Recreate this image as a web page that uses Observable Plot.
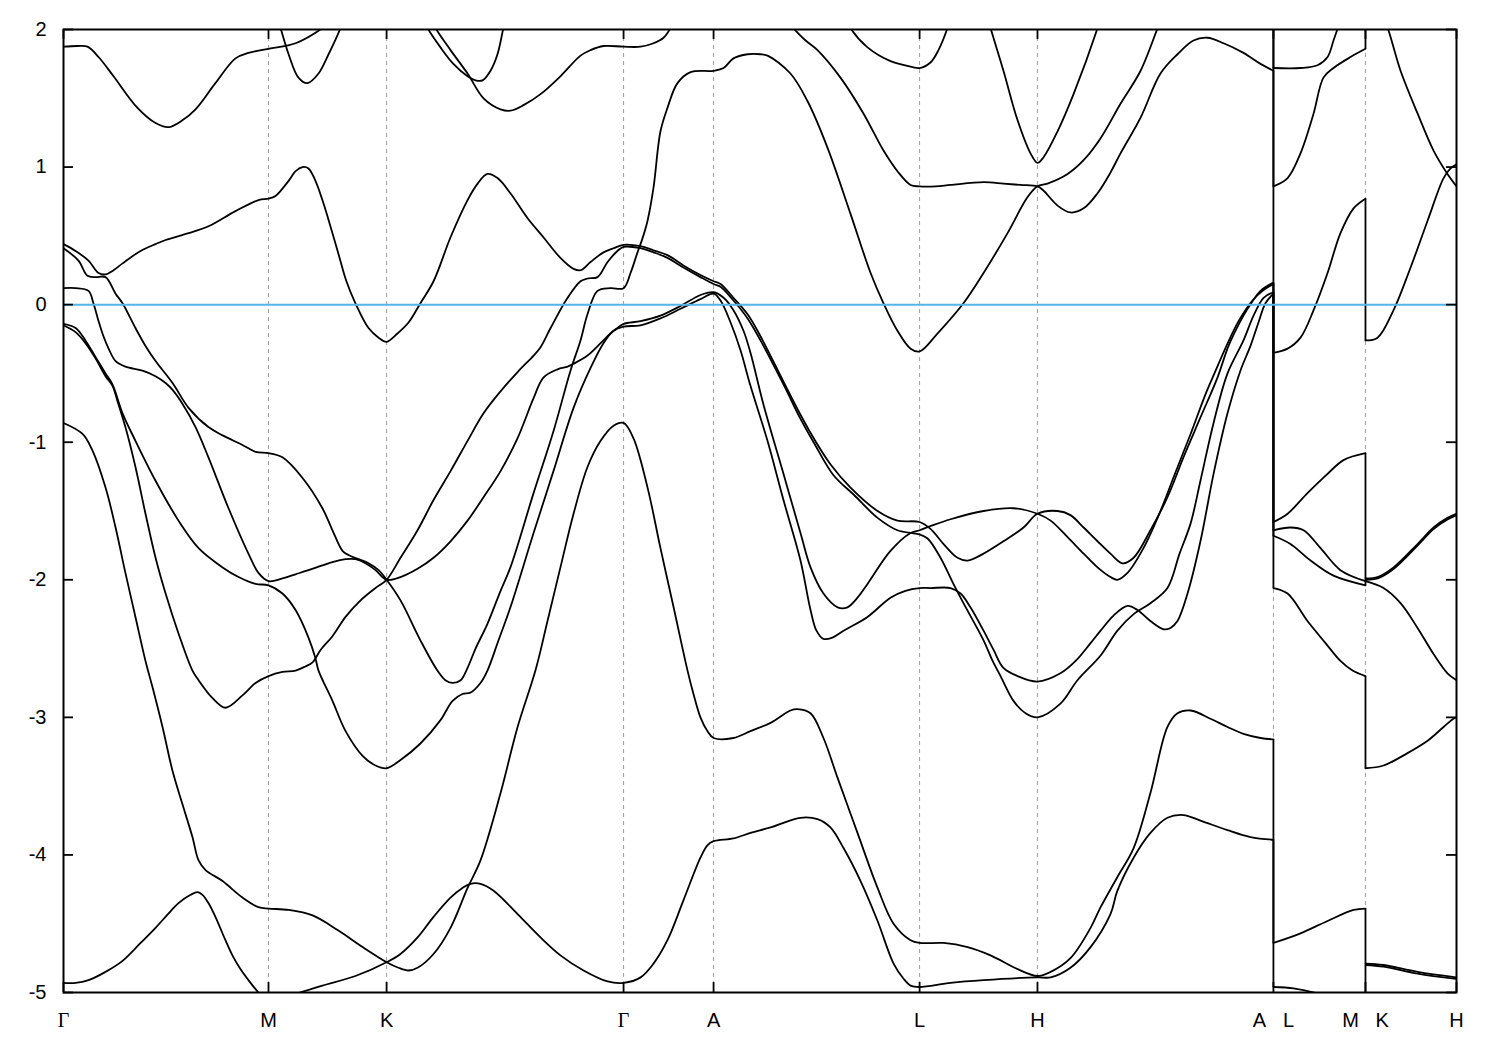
<!DOCTYPE html>
<html><head><meta charset="utf-8">
<script src="https://cdn.jsdelivr.net/npm/d3@7"></script>
<script src="https://cdn.jsdelivr.net/npm/@observablehq/plot@0.6"></script>
<style>html,body{margin:0;padding:0;background:#fff}#chart svg{display:block}</style>
</head><body><div id="chart"></div>
<script>
// k-path positions of high-symmetry points (Γ-M = 1)
const kTicks = [0, 1.0, 1.576, 2.732, 3.171, 4.176, 4.751, 5.902, 6.351, 6.795];
const kLabels = ["Γ","M","K","Γ","A","L","H","A\u00a0\u00a0\u00a0L","M\u00a0\u00a0\u00a0K","H"];
const energyTicks = [2, 1, 0, -1, -2, -3, -4, -5];
const fermiLevel = 0;

// bands: [k, E(eV)]
const bandTop1 = [[0,1.875],[0.068,1.88],[0.117,1.875],[0.171,1.80],[0.244,1.66],[0.361,1.43],[0.449,1.32],[0.512,1.29],[0.580,1.34],[0.644,1.42],[0.741,1.61],[0.839,1.79],[0.902,1.83],[1.0,1.86],[1.132,1.90],[1.263,2.01],[1.302,2.06]];
const bandTop2 = [[1.049,2.06],[1.059,2.01],[1.098,1.82],[1.146,1.65],[1.190,1.61],[1.244,1.68],[1.293,1.82],[1.351,2.01],[1.361,2.06]];
const bandTop3 = [[1.761,2.06],[1.776,2.01],[1.839,1.87],[1.902,1.75],[1.971,1.66],[2.010,1.63],[2.044,1.63],[2.083,1.70],[2.117,1.82],[2.146,2.01],[2.156,2.06]];
const bandTop4 = [[1.800,2.06],[1.815,2.01],[1.888,1.85],[1.971,1.68],[2.049,1.50],[2.132,1.42],[2.180,1.41],[2.244,1.45],[2.327,1.53],[2.424,1.66],[2.522,1.81],[2.571,1.85],[2.634,1.88],[2.732,1.875],[2.815,1.875],[2.878,1.90],[2.927,1.94],[2.961,2.01],[2.976,2.06]];
const bandB4 = [[0,0.44],[0.059,0.39],[0.122,0.32],[0.171,0.23],[0.205,0.22],[0.244,0.25],[0.288,0.30],[0.376,0.39],[0.449,0.44],[0.498,0.47],[0.610,0.52],[0.707,0.57],[0.839,0.68],[0.951,0.76],[1.0,0.77],[1.034,0.79],[1.098,0.90],[1.132,0.97],[1.166,1.00],[1.195,0.99],[1.229,0.90],[1.263,0.76],[1.302,0.57],[1.341,0.37],[1.380,0.17],[1.424,0.01],[1.488,-0.17],[1.537,-0.24],[1.576,-0.27],[1.629,-0.21],[1.683,-0.13],[1.741,0.01],[1.805,0.17],[1.888,0.49],[1.971,0.76],[2.020,0.88],[2.068,0.95],[2.117,0.92],[2.180,0.81],[2.263,0.63],[2.341,0.49],[2.424,0.34],[2.488,0.26],[2.522,0.25],[2.571,0.31],[2.634,0.38],[2.683,0.41],[2.732,0.435],
  [2.815,0.425],[2.878,0.395],[2.946,0.36],[3.024,0.285],[3.107,0.215],[3.171,0.17],[3.205,0.15],[3.268,0.05],[3.337,-0.07],[3.400,-0.23],[3.512,-0.56],[3.595,-0.80],[3.659,-0.97],[3.741,-1.16],[3.839,-1.33],[3.971,-1.50],[4.068,-1.57],[4.176,-1.58],[4.229,-1.63],[4.293,-1.74],[4.361,-1.84],[4.410,-1.86],[4.488,-1.81],[4.585,-1.72],[4.683,-1.62],[4.751,-1.52],[4.849,-1.50],[4.912,-1.53],[4.976,-1.62],[5.044,-1.72],[5.107,-1.81],[5.166,-1.88],[5.220,-1.84],[5.302,-1.64],[5.385,-1.40],[5.463,-1.11],[5.546,-0.82],[5.629,-0.53],[5.683,-0.30],[5.741,-0.12],[5.776,-0.03],[5.839,0.10],[5.902,0.16]];
const bandW = [[0,-0.15],[0.059,-0.20],[0.107,-0.28],[0.156,-0.39],[0.205,-0.52],[0.239,-0.59],[0.263,-0.70],[0.302,-0.89],[0.351,-1.18],[0.400,-1.52],[0.449,-1.84],[0.498,-2.10],[0.561,-2.39],[0.629,-2.66],[0.659,-2.73],[0.727,-2.86],[0.790,-2.93],[0.873,-2.84],[0.937,-2.75],[1.0,-2.70],[1.068,-2.67],[1.132,-2.66],[1.180,-2.63],[1.215,-2.60],[1.254,-2.51],[1.312,-2.41],[1.376,-2.27],[1.449,-2.15],[1.522,-2.06],[1.576,-2.00],[1.644,-1.84],[1.727,-1.64],[1.805,-1.42],[1.888,-1.21],[1.971,-0.99],[2.049,-0.79],[2.132,-0.63],[2.215,-0.49],[2.293,-0.37],[2.327,-0.31],[2.376,-0.17],[2.459,0.05],[2.522,0.17],[2.556,0.19],[2.605,0.20],[2.654,0.31],[2.702,0.39],[2.732,0.42],
  [2.815,0.41],[2.878,0.38],[2.946,0.34],[3.024,0.27],[3.107,0.20],[3.171,0.15],[3.205,0.13],[3.268,0.03],[3.337,-0.10],[3.400,-0.26],[3.512,-0.58],[3.595,-0.83],[3.659,-1.00],[3.756,-1.24],[3.854,-1.38],[3.971,-1.55],[4.068,-1.64],[4.176,-1.67],[4.215,-1.70],[4.278,-1.84],[4.341,-2.03],[4.390,-2.17],[4.488,-2.44],[4.532,-2.59],[4.571,-2.70],[4.634,-2.88],[4.693,-2.97],[4.751,-3.00],[4.863,-2.90],[4.946,-2.73],[5.059,-2.55],[5.141,-2.37],[5.220,-2.25],[5.302,-2.17],[5.385,-2.06],[5.444,-1.81],[5.498,-1.59],[5.546,-1.28],[5.610,-0.86],[5.678,-0.50],[5.756,-0.26],[5.805,-0.08],[5.854,0.05],[5.902,0.09]];
const bandZ = [[0,-0.14],[0.059,-0.17],[0.107,-0.26],[0.156,-0.38],[0.205,-0.50],[0.239,-0.58],[0.288,-0.79],[0.351,-0.99],[0.449,-1.28],[0.561,-1.57],[0.659,-1.77],[0.776,-1.91],[0.854,-1.98],[0.937,-2.03],[1.0,-2.04],[1.068,-2.10],[1.132,-2.22],[1.195,-2.42],[1.229,-2.57],[1.244,-2.66],[1.312,-2.88],[1.376,-3.10],[1.459,-3.28],[1.522,-3.35],[1.576,-3.37],
  [1.644,-3.31],[1.741,-3.19],[1.839,-3.02],[1.898,-2.88],[1.946,-2.83],[1.985,-2.82],[2.034,-2.75],[2.068,-2.66],[2.122,-2.44],[2.180,-2.20],[2.293,-1.66],[2.390,-1.21],[2.488,-0.75],[2.571,-0.46],[2.634,-0.28],[2.683,-0.19],[2.732,-0.16],
  [2.815,-0.15],[2.912,-0.10],[3.010,-0.03],[3.107,0.04],[3.171,0.08],
  [3.205,0.03],[3.254,-0.13],[3.302,-0.33],[3.351,-0.59],[3.434,-0.99],[3.512,-1.42],[3.595,-1.86],[3.644,-2.22],[3.673,-2.37],[3.707,-2.43],[3.751,-2.42],[3.805,-2.37],[3.922,-2.27],[4.034,-2.13],[4.107,-2.08],[4.176,-2.06],[4.229,-2.06],[4.327,-2.06],[4.376,-2.10],[4.424,-2.20],[4.488,-2.37],[4.537,-2.51],[4.585,-2.64],[4.654,-2.70],[4.751,-2.74],[4.863,-2.68],[4.937,-2.59],[5.010,-2.46],[5.059,-2.37],[5.122,-2.26],[5.190,-2.19],[5.239,-2.22],[5.302,-2.30],[5.366,-2.36],[5.400,-2.35],[5.434,-2.30],[5.483,-2.10],[5.546,-1.72],[5.610,-1.23],[5.678,-0.79],[5.741,-0.48],[5.790,-0.30],[5.829,-0.13],[5.863,0.01],[5.902,0.08]];
const bandT = [[0,0.12],[0.059,0.12],[0.122,0.10],[0.146,0.01],[0.171,-0.12],[0.195,-0.23],[0.220,-0.32],[0.254,-0.41],[0.302,-0.45],[0.385,-0.48],[0.449,-0.52],[0.498,-0.57],[0.532,-0.62],[0.580,-0.72],[0.644,-0.89],[0.707,-1.11],[0.805,-1.48],[0.902,-1.81],[0.951,-1.95],[1.0,-2.01],[1.068,-1.99],[1.132,-1.96],[1.195,-1.93],[1.293,-1.88],[1.376,-1.85],[1.424,-1.85],[1.473,-1.88],[1.522,-1.93],[1.576,-2.00],
  [1.644,-1.98],[1.727,-1.92],[1.805,-1.84],[1.888,-1.72],[1.971,-1.57],[2.049,-1.40],[2.132,-1.21],[2.215,-0.97],[2.293,-0.68],[2.341,-0.53],[2.410,-0.47],[2.459,-0.45],[2.488,-0.43],[2.556,-0.37],[2.620,-0.28],[2.668,-0.21],[2.702,-0.17],[2.732,-0.14],
  [2.815,-0.12],[2.912,-0.08],[3.010,-0.01],[3.107,0.07],[3.171,0.09],
  [3.220,0.05],[3.268,-0.04],[3.317,-0.19],[3.351,-0.35],[3.415,-0.73],[3.512,-1.23],[3.595,-1.66],[3.644,-1.91],[3.707,-2.10],[3.776,-2.20],[3.824,-2.20],[3.873,-2.13],[3.922,-2.03],[4.034,-1.79],[4.132,-1.66],[4.176,-1.64],[4.229,-1.61],[4.327,-1.56],[4.488,-1.50],[4.634,-1.48],[4.751,-1.52],[4.815,-1.57],[4.898,-1.69],[4.976,-1.81],[5.044,-1.91],[5.107,-1.98],[5.141,-2.00],[5.190,-1.95],[5.268,-1.77],[5.351,-1.50],[5.424,-1.22],[5.498,-0.94],[5.571,-0.65],[5.620,-0.48],[5.673,-0.30],[5.732,-0.12],[5.800,0.03],[5.849,0.10],[5.902,0.15]];
const bandS = [[0,0.41],[0.073,0.32],[0.117,0.21],[0.156,0.20],[0.205,0.20],[0.254,0.08],[0.288,0.01],[0.351,-0.17],[0.400,-0.30],[0.449,-0.41],[0.532,-0.57],[0.610,-0.75],[0.707,-0.89],[0.776,-0.95],[0.873,-1.02],[0.937,-1.07],[1.0,-1.08],[1.068,-1.11],[1.166,-1.26],[1.263,-1.48],[1.312,-1.64],[1.361,-1.79],[1.390,-1.82],[1.439,-1.85],[1.488,-1.88],[1.537,-1.93],[1.576,-2.00],
  [1.644,-2.15],[1.741,-2.44],[1.824,-2.66],[1.863,-2.73],[1.898,-2.75],[1.937,-2.73],[1.971,-2.64],[2.010,-2.50],[2.068,-2.32],[2.132,-2.08],[2.180,-1.91],[2.293,-1.37],[2.390,-0.92],[2.473,-0.48],[2.522,-0.26],[2.556,-0.07],[2.605,0.10],[2.668,0.12],[2.732,0.12],
  [2.766,0.23],[2.800,0.38],[2.824,0.48],[2.849,0.61],[2.878,0.85],[2.912,1.26],[2.946,1.43],[2.995,1.61],[3.059,1.69],[3.171,1.70],[3.220,1.72],[3.268,1.79],[3.337,1.82],[3.400,1.82],[3.434,1.81],[3.546,1.68],[3.629,1.48],[3.727,1.14],[3.839,0.66],[3.937,0.23],[4.0,0.01],[4.068,-0.19],[4.132,-0.32],[4.176,-0.34],[4.263,-0.21],[4.390,0.01],[4.488,0.23],[4.605,0.52],[4.702,0.78],[4.751,0.86],[4.800,0.88],[4.898,0.95],[4.976,1.05],[5.059,1.21],[5.156,1.46],[5.254,1.70],[5.337,2.01],[5.351,2.06]];
const bandQ = [[0,-0.86],[0.093,-0.94],[0.141,-1.06],[0.205,-1.33],[0.254,-1.62],[0.302,-1.95],[0.351,-2.27],[0.400,-2.59],[0.434,-2.78],[0.483,-3.07],[0.532,-3.39],[0.580,-3.63],[0.629,-3.87],[0.659,-4.04],[0.693,-4.11],[0.776,-4.19],[0.873,-4.31],[0.951,-4.38],[1.0,-4.39],[1.098,-4.40],[1.215,-4.44],[1.341,-4.55],[1.459,-4.67],[1.576,-4.78],[1.634,-4.82],[1.683,-4.84],[1.727,-4.82],[1.805,-4.72],[1.888,-4.53],[1.971,-4.24],[2.034,-4.04],[2.132,-3.55],[2.215,-3.07],[2.302,-2.66],[2.361,-2.30],[2.424,-1.91],[2.488,-1.52],[2.556,-1.18],[2.620,-0.99],[2.683,-0.88],[2.732,-0.86],[2.780,-0.97],[2.849,-1.33],[2.912,-1.77],[2.976,-2.20],[3.044,-2.66],[3.073,-2.83],[3.107,-3.00],[3.141,-3.10],[3.171,-3.15],[3.268,-3.15],[3.351,-3.10],[3.449,-3.04],[3.546,-2.95],[3.580,-2.94],[3.644,-2.97],[3.707,-3.15],[3.776,-3.44],[3.873,-3.84],[3.971,-4.24],[4.049,-4.50],[4.132,-4.62],[4.176,-4.64],[4.293,-4.64],[4.410,-4.67],[4.522,-4.73],[4.654,-4.83],[4.751,-4.88],[4.815,-4.85],[4.912,-4.75],[5.010,-4.53],[5.059,-4.38],[5.141,-4.16],[5.220,-3.95],[5.302,-3.55],[5.385,-3.07],[5.434,-2.97],[5.498,-2.95],[5.595,-3.01],[5.678,-3.07],[5.756,-3.12],[5.839,-3.15],[5.902,-3.16]];
const bandP = [[0,-4.93],[0.059,-4.93],[0.122,-4.91],[0.205,-4.85],[0.288,-4.77],[0.376,-4.64],[0.449,-4.53],[0.522,-4.41],[0.561,-4.35],[0.620,-4.29],[0.654,-4.27],[0.678,-4.29],[0.707,-4.35],[0.741,-4.45],[0.790,-4.62],[0.824,-4.73],[0.863,-4.83],[0.902,-4.91],[0.951,-5.00],[1.0,-5.07],[1.059,-5.07],[1.107,-5.02],[1.132,-5.01],[1.263,-4.95],[1.424,-4.88],[1.576,-4.78],[1.644,-4.72],[1.727,-4.60],[1.805,-4.45],[1.888,-4.31],[1.946,-4.24],[1.985,-4.21],[2.034,-4.21],[2.098,-4.26],[2.215,-4.43],[2.327,-4.60],[2.424,-4.73],[2.537,-4.84],[2.654,-4.92],[2.732,-4.93],[2.815,-4.89],[2.878,-4.79],[2.946,-4.62],[3.024,-4.33],[3.107,-4.02],[3.141,-3.93],[3.171,-3.90],[3.268,-3.88],[3.351,-3.84],[3.449,-3.80],[3.595,-3.73],[3.678,-3.74],[3.741,-3.80],[3.805,-3.95],[3.888,-4.19],[3.971,-4.48],[4.049,-4.79],[4.098,-4.90],[4.132,-4.95],[4.176,-4.96],[4.327,-4.93],[4.488,-4.91],[4.751,-4.89],[4.815,-4.89],[4.912,-4.82],[5.010,-4.67],[5.107,-4.43],[5.141,-4.26],[5.220,-4.02],[5.302,-3.84],[5.385,-3.73],[5.463,-3.71],[5.546,-3.75],[5.678,-3.82],[5.790,-3.87],[5.902,-3.89]];
const bandU1 = [[3.541,2.06],[3.561,2.01],[3.620,1.92],[3.678,1.85],[3.790,1.65],[3.902,1.39],[4.0,1.12],[4.068,0.97],[4.132,0.87],[4.176,0.86],[4.254,0.86],[4.327,0.87],[4.488,0.89],[4.585,0.88],[4.668,0.87],[4.751,0.86],[4.780,0.83],[4.849,0.72],[4.912,0.67],[4.976,0.70],[5.044,0.81],[5.107,0.96],[5.156,1.10],[5.254,1.36],[5.351,1.68],[5.434,1.82],[5.512,1.92],[5.580,1.94],[5.659,1.90],[5.756,1.83],[5.839,1.75],[5.902,1.70]];
const bandU2 = [[3.824,2.06],[3.839,2.01],[3.922,1.87],[4.034,1.77],[4.107,1.74],[4.176,1.72],[4.229,1.76],[4.268,1.85],[4.312,2.01],[4.322,2.06]];
const bandU3 = [[4.512,2.06],[4.522,2.01],[4.585,1.70],[4.654,1.34],[4.717,1.10],[4.751,1.03],[4.780,1.07],[4.849,1.26],[4.927,1.53],[5.044,2.01],[5.054,2.06]];
// L - M segment
const bandLM1 = [[5.902,1.72],[6.034,1.72],[6.117,1.74],[6.166,1.80],[6.195,1.92],[6.215,2.01],[6.220,2.06]];
const bandLM2 = [[5.902,0.86],[5.971,0.92],[6.034,1.10],[6.098,1.39],[6.146,1.65],[6.195,1.72],[6.278,1.80],[6.351,1.86]];
const bandLM3 = [[5.902,-0.35],[5.971,-0.32],[6.034,-0.24],[6.098,-0.04],[6.166,0.23],[6.229,0.52],[6.293,0.70],[6.351,0.77]];
const bandLM4 = [[5.902,-1.58],[5.971,-1.52],[6.068,-1.37],[6.166,-1.23],[6.244,-1.13],[6.351,-1.08]];
const bandLM5 = [[5.902,-1.64],[5.985,-1.62],[6.049,-1.64],[6.132,-1.77],[6.229,-1.93],[6.351,-2.01]];
const bandLM6 = [[5.902,-1.68],[5.985,-1.74],[6.083,-1.86],[6.195,-1.97],[6.351,-2.04]];
const bandLM7 = [[5.902,-2.06],[5.971,-2.10],[6.068,-2.30],[6.156,-2.46],[6.229,-2.59],[6.288,-2.66],[6.351,-2.70]];
const bandLM8 = [[5.902,-4.64],[6.034,-4.57],[6.166,-4.48],[6.293,-4.40],[6.351,-4.39]];
const bandLM9 = [[5.902,-4.96],[6.0,-4.97],[6.098,-5.0],[6.180,-5.03],[6.351,-5.09]];
// K - H segment
const bandKH1 = [[6.351,2.25],[6.444,2.05],[6.459,2.01],[6.522,1.70],[6.605,1.39],[6.683,1.12],[6.751,0.95],[6.795,0.86]];
const bandKH2 = [[6.351,-0.26],[6.410,-0.24],[6.488,-0.04],[6.571,0.27],[6.654,0.61],[6.732,0.92],[6.766,0.99],[6.795,1.02]];
const bandKH3 = [[6.351,-1.99],[6.410,-1.98],[6.488,-1.91],[6.605,-1.74],[6.683,-1.62],[6.751,-1.55],[6.795,-1.52]];
const bandKH3b = [[6.351,-2.0],[6.410,-1.99],[6.488,-1.922],[6.605,-1.752],[6.683,-1.632],[6.751,-1.562],[6.795,-1.532]];
const bandKH4 = [[6.351,-2.01],[6.439,-2.06],[6.522,-2.17],[6.605,-2.35],[6.683,-2.54],[6.751,-2.68],[6.795,-2.73]];
const bandKH5 = [[6.351,-3.37],[6.439,-3.35],[6.556,-3.26],[6.654,-3.17],[6.732,-3.07],[6.780,-3.01],[6.795,-3.00]];
const bandKH6 = [[6.351,-4.79],[6.439,-4.80],[6.605,-4.85],[6.795,-4.89]];
const bandKH6b = [[6.351,-4.80],[6.439,-4.812],[6.605,-4.862],[6.795,-4.902]];

// energy jumps at the path discontinuities [E before, E after]
const jumpsAL = [[2.3,1.72],[2.2,0.86],[1.70,-0.35],[0.16,-1.58],[0.15,-1.64],[0.09,-1.68],[0.08,-2.06],[-3.16,-4.64],[-3.89,-4.96]];
const jumpsMK = [[1.86,2.25],[0.77,-0.26],[-1.08,-1.99],[-2.01,-2.0],[-2.04,-2.01],[-2.70,-3.37],[-4.39,-4.79],[-5.09,-4.80]];

const bandList = {bandTop1,bandTop2,bandTop3,bandTop4,bandB4,bandW,bandZ,bandT,bandS,bandQ,bandP,bandU1,bandU2,bandU3,
  bandLM1,bandLM2,bandLM3,bandLM4,bandLM5,bandLM6,bandLM7,bandLM8,bandLM9,bandKH1,bandKH2,bandKH3,bandKH3b,bandKH4,bandKH5,bandKH6,bandKH6b};
const rows = [];
for (const [id, pts] of Object.entries(bandList)) for (const [k, E] of pts) rows.push({id, k, E});
const jumpRows = [
  ...jumpsAL.map(([a, b]) => ({k: kTicks[7], e1: a, e2: b})),
  ...jumpsMK.map(([a, b]) => ({k: kTicks[8], e1: a, e2: b}))
];
const labelRows = kTicks.map((k, i) => ({k, label: kLabels[i]}));

const plot = Plot.plot({
  width: 1500, height: 1050,
  marginLeft: 63, marginRight: 44, marginTop: 29, marginBottom: 58,
  x: {domain: [0, 6.795], axis: null},
  y: {domain: [-5, 2], axis: null},
  style: {fontFamily: "'Liberation Sans', Arial, sans-serif", fontSize: "20px", background: "white", color: "black"},
  marks: [
    Plot.ruleX(kTicks.slice(1, -1), {stroke: "#a0a0a0", strokeWidth: 1, strokeDasharray: "4,4"}),
    Plot.line(rows, {x: "k", y: "E", z: "id", curve: "catmull-rom", stroke: "black", strokeWidth: 1.8, clip: true}),
    Plot.link(jumpRows, {x1: "k", x2: "k", y1: "e1", y2: "e2", stroke: "black", strokeWidth: 1.8, clip: true}),
    Plot.ruleY([fermiLevel], {stroke: "#56b4e9", strokeWidth: 2}),
    Plot.tickY(energyTicks, {stroke: "black", strokeWidth: 1.8, insetRight: 1383}),
    Plot.tickY(energyTicks, {stroke: "black", strokeWidth: 1.8, insetLeft: 1383}),
    Plot.tickX(kTicks, {stroke: "black", strokeWidth: 1.8, insetBottom: 953}),
    Plot.tickX(kTicks, {stroke: "black", strokeWidth: 1.8, insetTop: 953}),
    Plot.frame({stroke: "black", strokeWidth: 2}),
    Plot.text(energyTicks, {y: d => d, text: d => String(d), frameAnchor: "left", textAnchor: "end", dx: -17, fill: "black"}),
    Plot.text(labelRows.filter(d => d.label === "Γ"), {x: "k", text: "label", frameAnchor: "bottom", dy: 28, lineAnchor: "middle", fill: "black", fontFamily: "'Liberation Serif', 'DejaVu Serif', serif"}),
    Plot.text(labelRows.filter(d => d.label !== "Γ"), {x: "k", text: "label", frameAnchor: "bottom", dy: 28, lineAnchor: "middle", fill: "black"})
  ]
});
document.getElementById("chart").appendChild(plot);
</script>
</body></html>
